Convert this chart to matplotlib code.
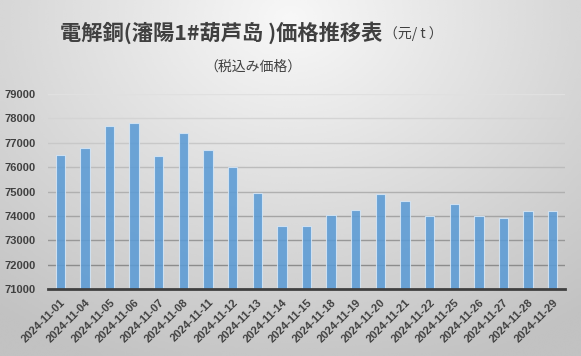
import numpy as np
import matplotlib.pyplot as plt

dates = ['2024-11-01', '2024-11-04', '2024-11-05', '2024-11-06', '2024-11-07',
         '2024-11-08', '2024-11-11', '2024-11-12', '2024-11-13', '2024-11-14',
         '2024-11-15', '2024-11-18', '2024-11-19', '2024-11-20', '2024-11-21',
         '2024-11-22', '2024-11-25', '2024-11-26', '2024-11-27', '2024-11-28',
         '2024-11-29']
prices = [76500, 76800, 77700, 77800, 76450, 77400, 76700, 76000, 74950, 73600,
          73600, 74050, 74250, 74900, 74600, 74000, 74500, 74000, 73900, 74200,
          74200]
y_ticks = [71000, 72000, 73000, 74000, 75000, 76000, 77000, 78000, 79000]

W, H = 581, 356
fig = plt.figure(figsize=(W / 100, H / 100), dpi=100)

# background: light in the upper middle, darker toward the edges
bg = fig.add_axes([0, 0, 1, 1], zorder=-10)
yy, xx = np.mgrid[0:1:200j, 0:1:300j]
r = np.sqrt(((xx - 0.5) / 0.85) ** 2 + ((yy - 0.05) / 1.1) ** 2)
shade = np.clip(0.97 - 0.22 * r, 0.76, 0.97)
bg.imshow(shade, cmap='gray', vmin=0, vmax=1, aspect='auto',
          extent=[0, 1, 1, 0], interpolation='bicubic')
bg.set_axis_off()

ax = fig.add_axes([48 / W, 1 - 289 / H, (565 - 48) / W, (289 - 94) / H])
ax.patch.set_alpha(0)

x = np.arange(len(dates))
ax.bar(x, prices, width=0.38, color='#5b9bd5', alpha=0.88,
       edgecolor='#d6e6f5', linewidth=0.8, zorder=3)

ax.set_ylim(71000, 79000)
ax.set_xlim(-0.5, len(dates) - 0.5)
ax.set_yticks(y_ticks)
ax.set_yticklabels([str(v) for v in y_ticks], fontsize=8,
                   fontweight='bold', color='#404040', family='Liberation Sans')

# grid lines get darker toward the bottom
for i, v in enumerate(y_ticks[1:]):
    g = 0.55 + 0.33 * i / (len(y_ticks) - 2)
    ax.axhline(v, color=str(g), linewidth=1.0, zorder=1)

ax.set_xticks(x)
ax.set_xticklabels(dates, rotation=45, ha='right', rotation_mode='anchor',
                   fontsize=8, fontweight='bold', color='#404040',
                   family='Liberation Sans')
ax.tick_params(axis='x', length=0, pad=6)
ax.tick_params(axis='y', length=0, pad=9)
for s in ['top', 'right', 'left']:
    ax.spines[s].set_visible(False)
ax.spines['bottom'].set_color('#404040')
ax.spines['bottom'].set_linewidth(2)
ax.spines['bottom'].set_zorder(4)

cjk = ['Noto Sans CJK JP', 'DejaVu Sans']
t1 = fig.text(60 / W, 1 - 33 / H, '電解銅(瀋陽1#葫芦岛 )価格推移表', fontsize=15.3,
              fontweight='bold', color='#404040', family=cjk,
              ha='left', va='center')
fig.canvas.draw()
bb = t1.get_window_extent()
fig.text(bb.x1 / W + 2 / W, 1 - 34 / H, '（元/ t ）', fontsize=10,
         color='#404040', family=cjk, ha='left', va='center')
fig.text(253 / W, 1 - 67 / H, '（税込み価格）', fontsize=10, color='#404040',
         family=cjk, ha='center', va='center')

fig.savefig('out.png', dpi=100)
